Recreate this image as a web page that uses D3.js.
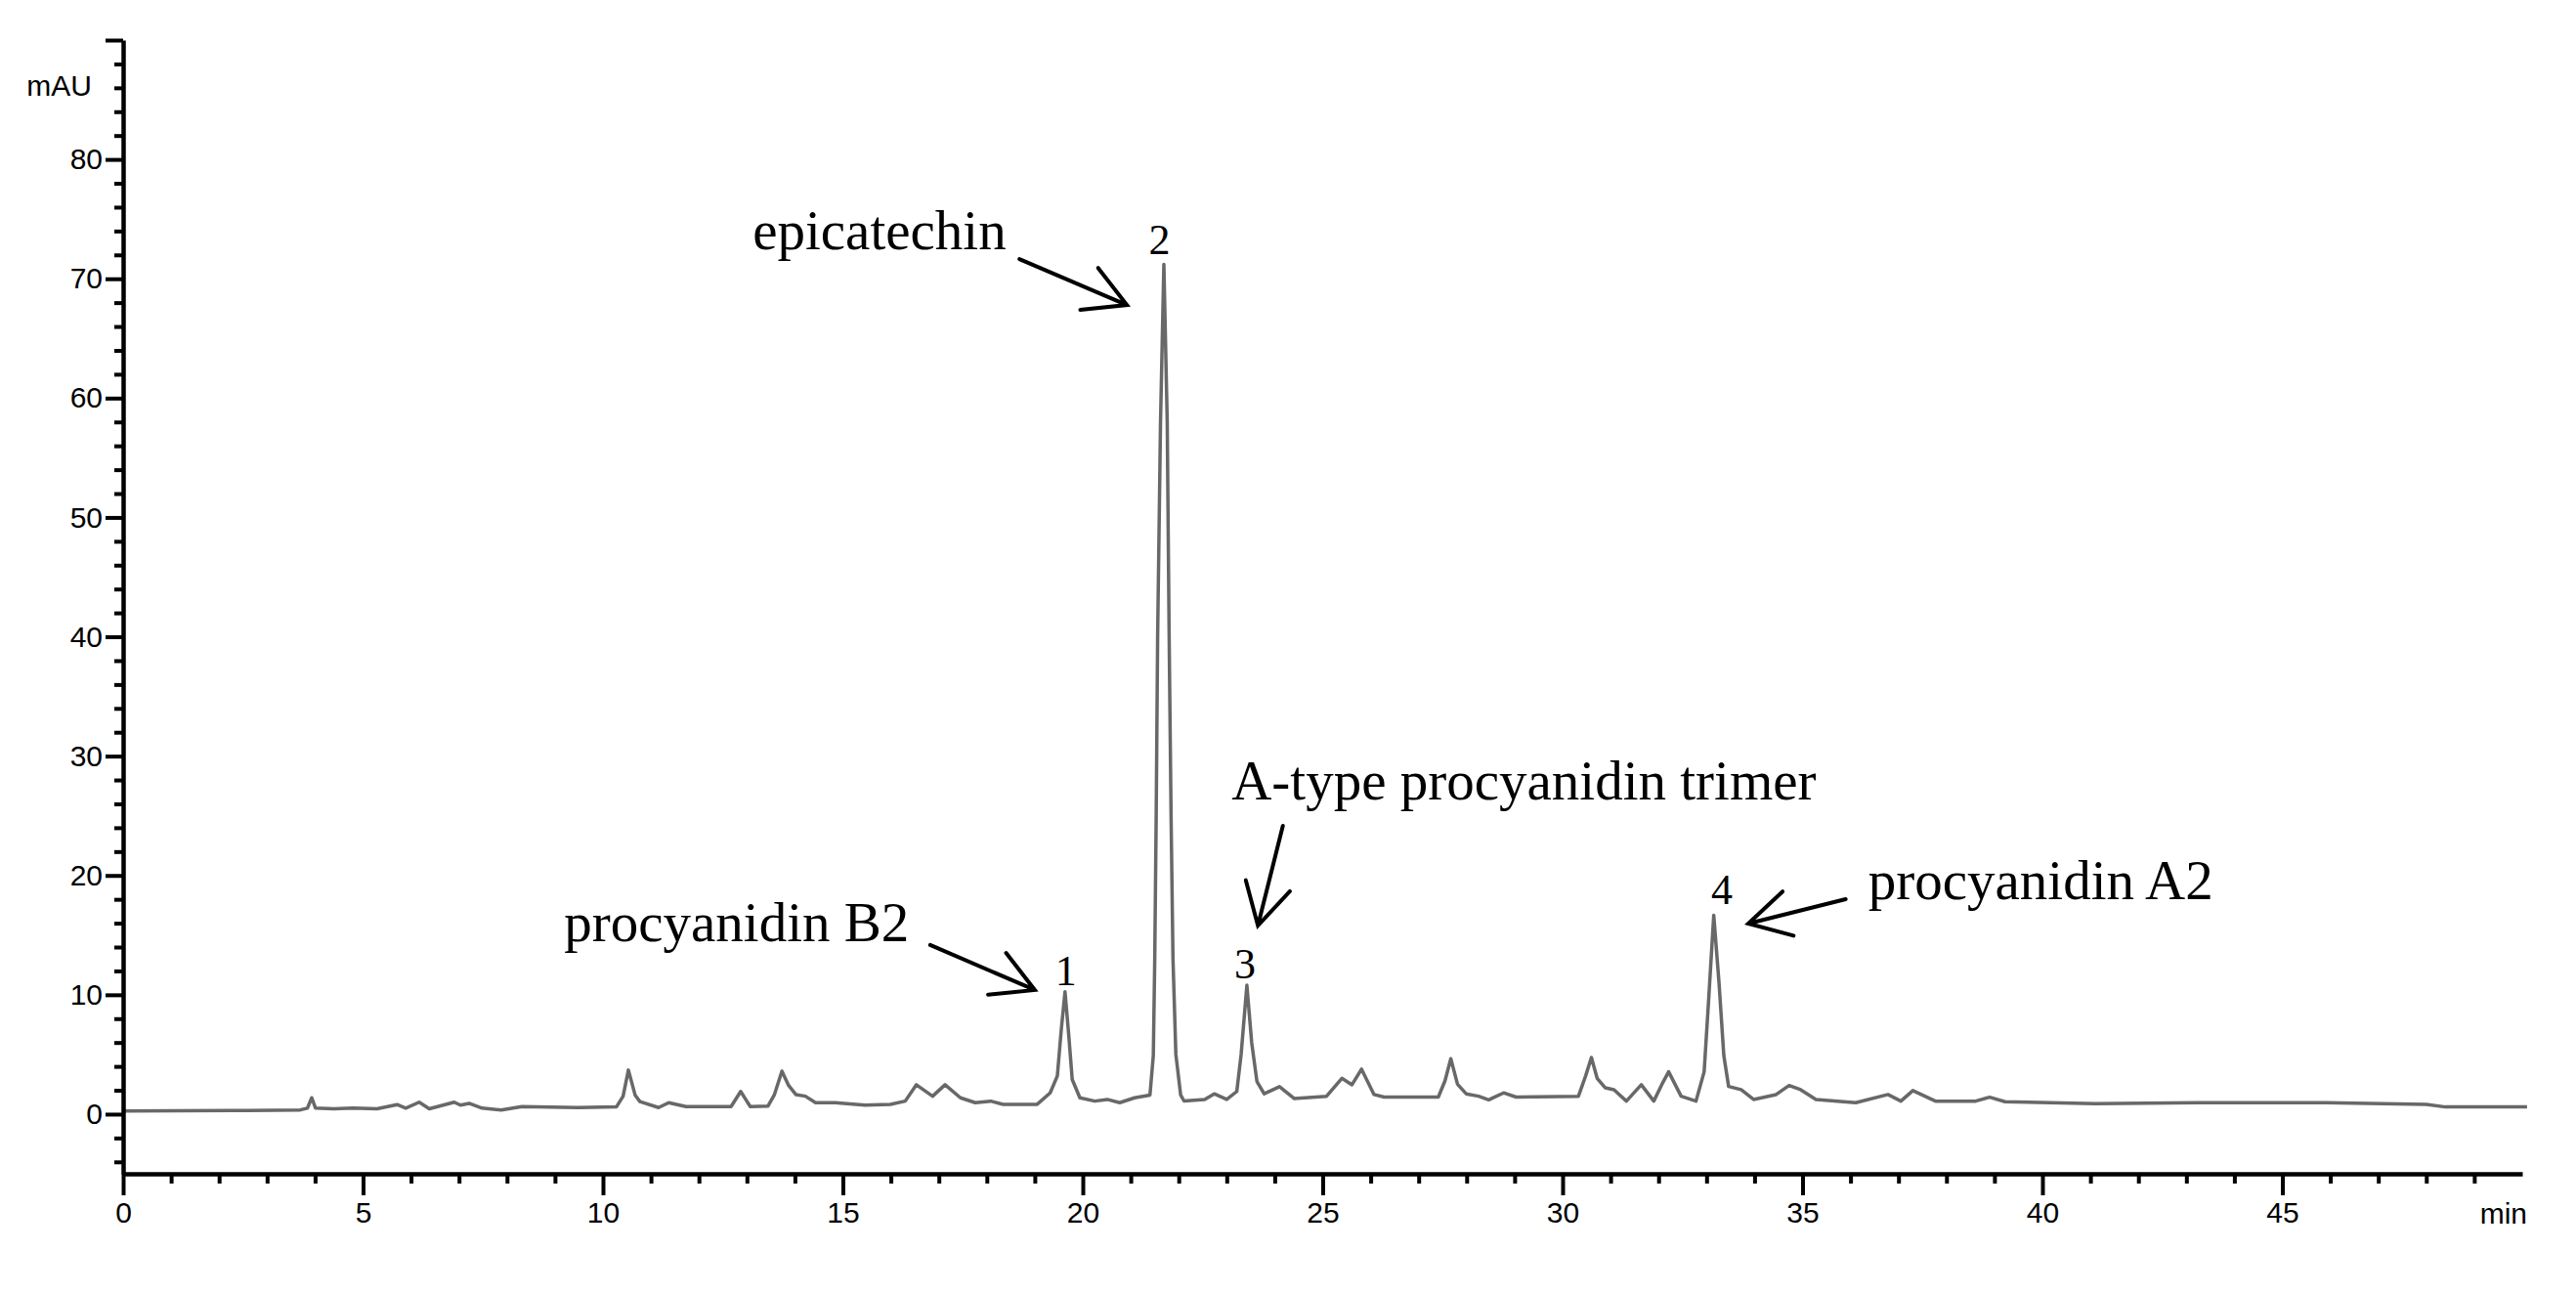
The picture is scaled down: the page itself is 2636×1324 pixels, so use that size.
<html>
<head>
<meta charset="utf-8">
<script src="https://cdn.jsdelivr.net/npm/d3@7"></script>
<style>
body{
  margin:0;
  padding:0;
  background:white;
  overflow:hidden;
}
.axis text{
  font-family: 'Liberation Sans', Arial, sans-serif;
  font-size: 30px;
  fill: black;
}
.note{
  font-family: 'Liberation Serif', 'Times New Roman', serif;
  font-size: 57px;
  fill: black;
}
.peakNo{
  font-family: 'Liberation Serif', 'Times New Roman', serif;
  font-size: 44px;
  fill: black;
}
</style>
</head>
<body>
<div id="chart"></div>
<script>
//========== DATA =============
// retention time (min) and absorbance (mAU)
const times = [
  0, 2.29, 3.69, 3.84, 3.93, 4.01, 4.39, 4.79, 5.29, 5.71,
  5.89, 6.17, 6.38, 6.9, 7.03, 7.21, 7.48, 7.88, 8.31, 9.48,
  10.28, 10.42, 10.53, 10.67, 10.77, 11.16, 11.37, 11.73, 12.67, 12.87,
  13.07, 13.44, 13.57, 13.73, 13.87, 14.02, 14.22, 14.43, 14.84, 15.46,
  15.99, 16.3, 16.53, 16.87, 17.13, 17.45, 17.76, 18.08, 18.34, 19.05,
  19.32, 19.47, 19.55, 19.63, 19.71, 19.78, 19.94, 20.25, 20.51, 20.77,
  21.08, 21.4, 21.47, 21.5, 21.53, 21.56, 21.62, 21.69, 21.76, 21.8,
  21.84, 21.88, 21.94, 22.04, 22.11, 22.54, 22.74, 23.0, 23.21, 23.3,
  23.42, 23.52, 23.63, 23.78, 24.1, 24.41, 25.08, 25.4, 25.61, 25.81,
  26.07, 26.28, 27.41, 27.55, 27.67, 27.81, 27.99, 28.25, 28.46, 28.77,
  29.03, 30.33, 30.48, 30.6, 30.72, 30.89, 31.07, 31.33, 31.64, 31.9,
  32.07, 32.21, 32.47, 32.78, 32.95, 33.05, 33.15, 33.26, 33.36, 33.46,
  33.72, 33.98, 34.45, 34.72, 34.96, 35.28, 36.11, 36.78, 37.05, 37.3,
  37.77, 38.61, 38.9, 39.22, 41.1, 43.25, 45.9, 48.0, 48.4, 50.1];
const mAU = [
  0.27, 0.3, 0.35, 0.5, 1.37, 0.5, 0.45, 0.5, 0.45, 0.8,
  0.5, 1.0, 0.45, 1.0, 0.75, 0.9, 0.5, 0.35, 0.63, 0.55,
  0.6, 1.5, 3.69, 1.6, 1.05, 0.55, 0.96, 0.63, 0.63, 1.9,
  0.63, 0.68, 1.6, 3.6, 2.4, 1.64, 1.5, 0.96, 0.96, 0.75,
  0.82, 1.09, 2.46, 1.5, 2.46, 1.37, 0.96, 1.09, 0.82, 0.82,
  1.78, 3.2, 7, 10.25, 6.5, 2.9, 1.37, 1.09, 1.23, 0.96,
  1.37, 1.6, 4.9, 13, 25, 40, 58, 71.2, 58, 40,
  25, 13, 5, 1.6, 1.1, 1.23, 1.7, 1.23, 1.9, 5,
  10.8, 6, 2.73, 1.7, 2.3, 1.3, 1.5, 3.0, 2.46, 3.77,
  1.64, 1.43, 1.43, 2.8, 4.64, 2.5, 1.7, 1.5, 1.2, 1.78,
  1.43, 1.5, 3.2, 4.75, 3.0, 2.2, 2.05, 1.09, 2.46, 1.09,
  2.5, 3.55, 1.5, 1.09, 3.55, 10, 16.67, 11, 4.9, 2.32,
  2.05, 1.23, 1.64, 2.4, 2.05, 1.23, 0.96, 1.64, 1.09, 1.97,
  1.09, 1.09, 1.42, 1.04, 0.87, 0.96, 0.95, 0.82, 0.6, 0.6];

const xMajor = [0, 5, 10, 15, 20, 25, 30, 35, 40, 45];
const yMajor = [0, 10, 20, 30, 40, 50, 60, 70, 80, 90];

// numbered peaks (label anchor in time, mAU)
const peakNames = ["1", "2", "3", "4"];
const peakLabelAt = [[19.65, 10.81], [21.6, 72.06], [23.38, 11.38], [33.32, 17.6]];

// compound labels with their arrows (time, mAU)
const noteTexts = ["procyanidin B2", "epicatechin", "A-type procyanidin trimer", "procyanidin A2"];
const noteAt = [[9.19, 14.5], [13.12, 72.5], [23.1, 26.37], [36.37, 18.0]];
const arrowFrom = [[16.82, 14.17], [18.68, 71.65], [24.17, 24.16], [35.9, 18.01]];
const arrowTo = [[19.0, 10.4], [20.92, 67.8], [23.65, 15.8], [33.87, 15.97]];

//========== SVG VIEW =============
const width = 2636, height = 1324;
const svg = d3.select("#chart").append("svg").attr("width", width).attr("height", height);

const x = d3.scaleLinear().domain([0, 50]).range([126, 2581]);
const y = d3.scaleLinear().domain([-5, 90]).range([1201, 41]);

// trace
const points = times.map((t, i) => [t, mAU[i]]);
svg.append("path")
  .datum(points)
  .attr("fill", "none")
  .attr("stroke", "#686868")
  .attr("stroke-width", 3.5)
  .attr("stroke-linejoin", "round")
  .attr("d", d3.line().x(d => x(d[0])).y(d => y(d[1])));

//========== AXES =============
const yMinor = d3.range(-4, 91, 2).filter(v => v % 10 !== 0);
const xMinor = d3.range(1, 50, 1).filter(v => v % 5 !== 0);

svg.append("g").attr("class", "axis").attr("transform", "translate(126,0)")
  .call(d3.axisLeft(y).tickValues(yMinor).tickSize(9).tickFormat(""))
  .call(g => g.select(".domain").remove());

svg.append("g").attr("class", "axis").attr("transform", "translate(126,0)")
  .call(d3.axisLeft(y).tickValues(yMajor).tickSize(18).tickSizeOuter(0).tickPadding(3)
    .tickFormat(d => d === 90 ? "" : d));

svg.append("g").attr("class", "axis").attr("transform", "translate(0,1201)")
  .call(d3.axisBottom(x).tickValues(xMinor).tickSize(10).tickFormat(""))
  .call(g => g.select(".domain").remove());

svg.append("g").attr("class", "axis").attr("transform", "translate(0,1201)")
  .call(d3.axisBottom(x).tickValues(xMajor).tickSize(22).tickSizeOuter(0).tickPadding(7));

svg.selectAll(".axis path, .axis line")
  .attr("stroke", "black")
  .attr("stroke-width", 4);
svg.selectAll(".axis .domain").attr("stroke-width", 4.5);

svg.append("text")
  .attr("x", 94).attr("y", 98)
  .attr("text-anchor", "end")
  .style("font-family", "'Liberation Sans', Arial, sans-serif")
  .style("font-size", "30px")
  .text("mAU");

svg.append("text")
  .attr("x", 2586).attr("y", 1252)
  .attr("text-anchor", "end")
  .style("font-family", "'Liberation Sans', Arial, sans-serif")
  .style("font-size", "30px")
  .text("min");

//========== ANNOTATIONS =============
svg.selectAll(".peakNo")
  .data(peakNames)
  .enter().append("text")
  .attr("class", "peakNo")
  .attr("text-anchor", "middle")
  .attr("x", (d, i) => x(peakLabelAt[i][0]))
  .attr("y", (d, i) => y(peakLabelAt[i][1]))
  .text(d => d);

svg.selectAll(".note")
  .data(noteTexts)
  .enter().append("text")
  .attr("class", "note")
  .attr("x", (d, i) => x(noteAt[i][0]))
  .attr("y", (d, i) => y(noteAt[i][1]))
  .text(d => d);

// open arrowheads: two barbs at the tip
const arrowPath = i => {
  const x0 = x(arrowFrom[i][0]), y0 = y(arrowFrom[i][1]);
  const x1 = x(arrowTo[i][0]), y1 = y(arrowTo[i][1]);
  const back = Math.atan2(y0 - y1, x0 - x1);
  const len = 48, spread = 29 * Math.PI / 180;
  const b1 = [x1 + len * Math.cos(back + spread), y1 + len * Math.sin(back + spread)];
  const b2 = [x1 + len * Math.cos(back - spread), y1 + len * Math.sin(back - spread)];
  return `M${x0},${y0}L${x1},${y1}M${b1[0]},${b1[1]}L${x1},${y1}L${b2[0]},${b2[1]}`;
};

svg.selectAll(".arrow")
  .data(noteTexts)
  .enter().append("path")
  .attr("class", "arrow")
  .attr("fill", "none")
  .attr("stroke", "black")
  .attr("stroke-width", 4)
  .attr("stroke-linecap", "round")
  .attr("d", (d, i) => arrowPath(i));
</script>
</body>
</html>
